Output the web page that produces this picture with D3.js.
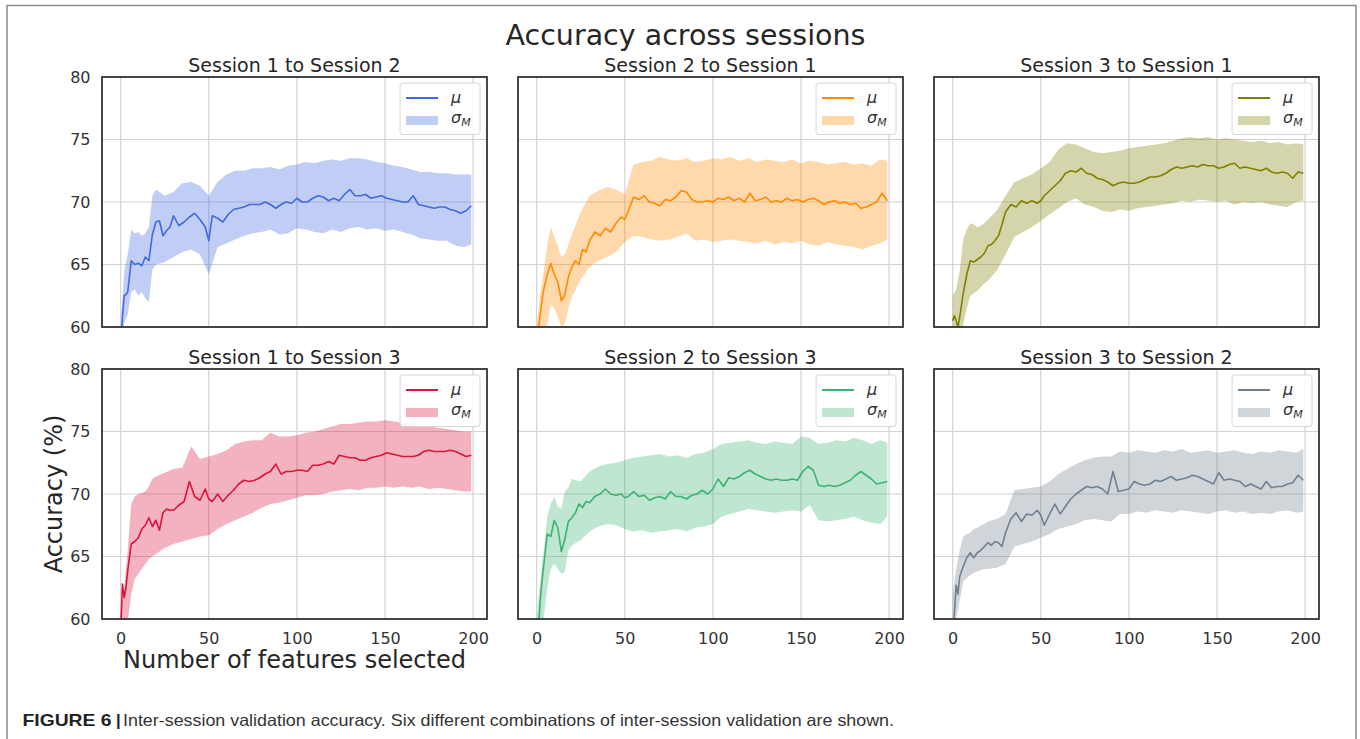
<!DOCTYPE html>
<html>
<head>
<meta charset="utf-8">
<script src="https://cdn.jsdelivr.net/npm/d3@7"></script>
<style>
  html, body { margin: 0; padding: 0; background: #fff; }
  svg text { font-family: "DejaVu Sans", sans-serif; }
  svg text.caption { font-family: "Liberation Sans", Arial, sans-serif; }
</style>
</head>
<body>
<div id="chart"></div>
<script>
const meanX = [0, 1, 2, 3, 4, 6, 8, 10, 12, 14, 16, 18, 20, 22, 24, 26, 28, 30,
  33, 36, 39, 42, 45, 48, 50, 52, 55, 58, 61, 64, 67, 70, 73, 76, 79, 82, 85, 88,
  91, 94, 97, 100, 103, 106, 109, 112, 115, 118, 121, 124, 127, 130, 133, 136,
  139, 142, 145, 148, 151, 154, 157, 160, 163, 166, 169, 172, 175, 178, 181,
  184, 187, 190, 193, 196, 199];

const bandX = [0, 2, 4, 6, 8, 10, 12, 14, 16, 18, 20, 25, 30, 35, 40, 45, 50, 55,
  60, 65, 70, 75, 80, 85, 90, 95, 100, 105, 110, 115, 120, 125, 130, 135, 140,
  145, 150, 155, 160, 165, 170, 175, 180, 185, 190, 195, 199];

const titles = ["Session 1 to Session 2", "Session 2 to Session 1", "Session 3 to Session 1",
  "Session 1 to Session 3", "Session 2 to Session 3", "Session 3 to Session 2"];
const colors = ["#4169e1", "#ff8c00", "#808000", "#dc143c", "#3cb371", "#708090"];

const xTicks = [0, 50, 100, 150, 200];
const yTicks = [60, 65, 70, 75, 80];

// Session 1 -> Session 2
const mean12 = [58.0, 60.8, 62.5, 62.6, 62.8, 65.3, 65.0, 65.1, 64.9, 65.6,
  65.3, 67.4, 68.4, 68.5, 67.3, 67.7, 68.0, 68.9, 68.1, 68.4,
  68.8, 69.1, 68.6, 68.0, 66.9, 68.9, 68.7, 68.4, 69.0, 69.4,
  69.5, 69.6, 69.8, 69.8, 69.8, 70.0, 69.8, 69.5, 69.8, 70.0,
  69.9, 70.3, 70.0, 70.0, 70.3, 70.5, 70.4, 70.1, 70.3, 70.1,
  70.6, 71.0, 70.5, 70.5, 70.6, 70.3, 70.4, 70.5, 70.3, 70.2,
  70.1, 70.0, 70.0, 70.5, 69.8, 69.7, 69.6, 69.5, 69.6, 69.6,
  69.4, 69.3, 69.1, 69.3, 69.7];
const lower12 = [57.5, 60.3, 61.0, 62.8, 63.0, 62.5, 62.8, 62.3, 62.0, 64.6, 65.0,
  65.2, 65.6, 66.0, 66.2, 65.8, 64.2, 66.4, 66.7, 67.0, 67.3,
  67.5, 67.6, 67.8, 67.4, 67.5, 67.9, 67.8, 67.6, 67.5, 67.8,
  67.6, 67.9, 68.0, 67.8, 67.9, 67.7, 67.8, 67.6, 67.4, 67.1,
  67.0, 66.9, 66.9, 66.5, 66.4, 66.6];
const upper12 = [60.0, 64.5, 65.8, 67.8, 67.5, 67.6, 67.3, 67.5, 68.0, 70.5, 71.0,
  70.5, 70.8, 71.5, 71.6, 71.3, 70.5, 71.6, 72.2, 72.5, 72.5,
  72.7, 72.7, 72.8, 72.6, 72.9, 73.0, 73.2, 73.1, 73.3, 73.4,
  73.3, 73.5, 73.5, 73.4, 73.2, 73.1, 72.9, 72.8, 72.6, 72.4,
  72.4, 72.3, 72.3, 72.2, 72.2, 72.2];

// Session 2 -> Session 1
const mean21 = [58.5, 59.8, 61.0, 62.2, 63.0, 64.2, 65.1, 64.2, 63.6, 62.1,
  62.6, 64.0, 64.8, 65.3, 65.0, 66.2, 66.0, 66.9, 67.6, 67.3,
  67.9, 67.6, 68.3, 68.8, 68.6, 69.3, 70.4, 70.2, 70.5, 70.0,
  69.9, 69.7, 70.2, 70.1, 70.4, 70.9, 70.8, 70.2, 70.0, 70.0,
  70.1, 70.0, 70.3, 70.2, 70.4, 70.1, 70.3, 70.0, 70.7, 70.1,
  70.2, 70.4, 70.0, 70.1, 70.0, 70.3, 70.1, 70.2, 70.0, 70.2,
  70.3, 70.1, 69.8, 70.0, 70.1, 69.9, 70.0, 69.8, 69.9, 69.5,
  69.6, 69.8, 70.0, 70.7, 70.1];
const lower21 = [57.0, 58.0, 59.0, 60.2, 61.8, 61.5, 60.8, 60.0, 60.3, 61.5, 62.4,
  63.8, 64.8, 65.3, 65.6, 66.0, 66.8, 67.3, 67.2, 67.0, 66.9,
  67.0, 67.2, 67.5, 66.9, 67.0, 66.8, 66.9, 67.0, 66.9, 66.8,
  66.7, 66.9, 66.6, 66.8, 66.7, 66.9, 66.6, 66.5, 66.8, 66.6,
  66.5, 66.4, 66.2, 66.5, 66.7, 67.0];
const upper21 = [60.0, 62.5, 64.5, 66.5, 68.0, 67.2, 66.5, 65.6, 65.8, 66.6, 67.4,
  69.2, 70.5, 70.9, 71.2, 71.0, 70.6, 73.0, 73.2, 73.3, 73.6,
  73.4, 73.3, 73.5, 73.2, 73.3, 73.5, 73.4, 73.6, 73.3, 73.5,
  73.2, 73.4, 73.3, 73.2, 73.4, 73.1, 73.3, 73.2, 73.0, 73.1,
  73.2, 73.0, 73.1, 72.9, 73.4, 73.3];

// Session 3 -> Session 1
const mean31 = [60.5, 60.9, 60.5, 60.0, 60.8, 62.7, 64.2, 65.3, 65.2, 65.4,
  65.6, 65.9, 66.5, 66.6, 66.9, 67.3, 68.2, 69.2, 69.8, 69.6,
  70.1, 69.9, 70.1, 69.9, 70.1, 70.5, 70.9, 71.3, 71.7, 72.3,
  72.5, 72.4, 72.7, 72.3, 72.2, 71.9, 71.8, 71.6, 71.3, 71.5,
  71.6, 71.5, 71.5, 71.6, 71.8, 72.0, 72.0, 72.1, 72.3, 72.6,
  72.8, 72.7, 72.8, 72.9, 72.8, 73.0, 72.9, 72.9, 72.7, 72.8,
  73.0, 73.1, 72.7, 72.8, 72.7, 72.6, 72.5, 72.7, 72.4, 72.3,
  72.4, 72.3, 71.9, 72.4, 72.3];
const lower31 = [58.5, 59.0, 59.2, 60.2, 61.5, 62.5, 62.7, 62.9, 63.2, 63.5, 63.7,
  64.5, 65.8, 67.2, 67.6, 68.0, 68.5, 69.0, 69.5, 70.0, 70.3,
  69.8, 69.6, 69.3, 69.2, 69.4, 69.3, 69.5, 69.6, 69.7, 69.8,
  69.9, 70.1, 70.0, 70.2, 70.1, 70.0, 70.1, 69.8, 70.0, 69.9,
  70.0, 69.8, 69.7, 69.6, 70.0, 70.1];
const upper31 = [62.5, 63.0, 64.5, 67.0, 67.8, 68.3, 68.2, 68.0, 68.1, 68.3, 68.6,
  69.3, 70.5, 71.6, 71.9, 72.2, 72.7, 73.2, 74.2, 74.7, 74.6,
  74.3, 74.0, 73.9, 74.0, 74.1, 74.3, 74.4, 74.5, 74.6, 74.7,
  74.9, 75.1, 75.2, 75.1, 75.2, 75.0, 75.1, 75.0, 74.9, 74.8,
  74.9, 74.7, 74.8, 74.6, 74.7, 74.6];

// Session 1 -> Session 3
const mean13 = [59.0, 62.8, 61.7, 62.5, 63.9, 66.0, 66.2, 66.5, 67.2, 67.5,
  68.1, 67.4, 67.9, 67.1, 68.5, 68.8, 68.7, 68.7, 69.1, 69.4,
  71.0, 69.8, 69.5, 70.4, 69.6, 69.4, 70.0, 69.4, 69.9, 70.3,
  70.8, 71.1, 71.0, 71.1, 71.3, 71.6, 71.8, 72.4, 71.6, 71.8,
  71.8, 71.9, 71.9, 71.8, 72.3, 72.3, 72.4, 72.6, 72.4, 73.1,
  73.0, 72.9, 72.9, 72.7, 72.7, 72.9, 73.0, 73.1, 73.3, 73.2,
  73.1, 73.0, 73.0, 73.0, 73.1, 73.4, 73.5, 73.4, 73.4, 73.4,
  73.5, 73.4, 73.2, 73.0, 73.1];
const lower13 = [59.0, 59.5, 59.8, 62.0, 63.2, 63.6, 64.0, 64.4, 64.8, 65.0, 65.2,
  65.7, 66.0, 66.2, 66.4, 66.6, 66.7, 67.2, 67.6, 67.9, 68.2,
  68.5, 68.9, 69.2, 69.3, 69.5, 69.7, 69.9, 69.9, 70.0, 70.2,
  70.3, 70.4, 70.3, 70.5, 70.5, 70.6, 70.5, 70.6, 70.5, 70.6,
  70.4, 70.5, 70.4, 70.3, 70.2, 70.2];
const upper13 = [60.5, 62.5, 65.5, 69.2, 69.8, 70.0, 70.1, 70.2, 70.6, 71.2, 71.4,
  71.7, 72.0, 72.1, 73.8, 72.8, 73.0, 73.2, 73.5, 74.0, 74.2,
  74.3, 74.3, 74.9, 74.6, 74.6, 74.7, 74.9, 75.0, 75.2, 75.4,
  75.6, 75.6, 75.7, 75.8, 75.8, 75.9, 75.8, 75.7, 75.6, 75.5,
  75.4, 75.3, 75.2, 75.1, 75.0, 75.0];

// Session 2 -> Session 3
const mean23 = [57.5, 59.0, 61.5, 63.0, 64.3, 66.8, 66.6, 67.9, 67.3, 65.4,
  66.4, 67.8, 68.1, 68.5, 69.2, 68.9, 69.4, 69.3, 69.8, 70.0,
  70.4, 70.0, 69.9, 70.0, 69.7, 69.8, 70.2, 69.8, 69.9, 69.5,
  69.7, 69.8, 69.6, 70.2, 69.8, 69.8, 69.6, 69.9, 70.0, 70.3,
  70.0, 70.4, 71.2, 70.6, 71.3, 71.2, 71.4, 71.7, 71.9, 71.6,
  71.4, 71.2, 71.1, 71.2, 71.1, 71.1, 71.2, 71.1, 71.8, 72.2,
  71.9, 70.7, 70.6, 70.7, 70.6, 70.7, 70.9, 71.1, 71.5, 71.8,
  71.5, 71.2, 70.8, 70.9, 71.0];
const lower23 = [57.0, 58.5, 60.0, 62.5, 64.0, 64.4, 64.0, 63.6, 63.8, 65.5, 65.9,
  66.3, 67.0, 67.4, 67.6, 67.5, 67.2, 67.0, 67.1, 66.9, 67.0,
  67.1, 67.2, 67.0, 67.3, 67.4, 67.6, 68.2, 68.4, 68.6, 68.8,
  68.7, 68.6, 68.5, 68.6, 68.7, 68.6, 69.1, 67.9, 67.8, 67.9,
  68.0, 68.2, 67.9, 67.7, 67.6, 68.2];
const upper23 = [60.0, 63.0, 65.5, 68.2, 69.2, 69.8, 69.0, 68.8, 70.2, 70.5, 71.2,
  71.0, 71.8, 72.2, 72.4, 72.5, 72.7, 72.9, 73.0, 73.1, 73.2,
  73.0, 73.1, 72.9, 73.2, 73.3, 73.6, 74.0, 74.1, 74.2, 74.3,
  74.1, 74.0, 74.2, 74.1, 74.0, 74.6, 74.5, 74.0, 74.1, 74.3,
  74.2, 74.5, 74.3, 74.0, 74.3, 74.1];

// Session 3 -> Session 2
const mean32 = [59.0, 60.5, 62.7, 62.0, 63.4, 64.2, 64.9, 65.3, 64.9, 65.3,
  65.5, 65.8, 66.1, 65.9, 66.2, 66.1, 65.8, 66.9, 68.0, 68.5,
  67.8, 68.4, 68.3, 68.7, 68.3, 67.5, 68.4, 69.2, 68.4, 69.0,
  69.6, 70.0, 70.3, 70.6, 70.5, 70.6, 70.4, 70.0, 71.8, 70.2,
  70.3, 70.4, 71.0, 70.8, 70.7, 70.8, 71.1, 71.0, 71.2, 71.4,
  71.1, 71.2, 71.3, 71.5, 71.4, 71.2, 71.0, 70.8, 71.7, 71.1,
  71.2, 71.1, 71.0, 70.6, 70.8, 70.6, 70.4, 71.0, 70.5, 70.6,
  70.6, 70.8, 70.9, 71.5, 71.1];
const lower32 = [58.5, 60.0, 61.5, 63.0, 63.3, 63.5, 63.7, 63.8, 63.9, 64.0, 64.0,
  64.1, 64.4, 65.8, 66.0, 66.2, 66.5, 66.8, 67.2, 67.4, 67.6,
  67.9, 68.0, 67.9, 67.8, 68.4, 68.4, 68.6, 68.5, 68.7, 68.6,
  68.5, 68.7, 68.6, 68.5, 68.4, 68.6, 68.7, 68.5, 68.6, 68.4,
  68.5, 68.4, 68.6, 68.7, 68.5, 68.6];
const upper32 = [62.0, 64.0, 65.5, 66.6, 66.8, 66.9, 67.2, 67.3, 67.5, 67.6, 67.8,
  68.0, 68.4, 70.3, 70.4, 70.5, 70.6, 71.0, 71.6, 72.0, 72.4,
  72.7, 72.9, 73.0, 73.0, 73.4, 73.3, 73.5, 73.4, 73.3, 73.5,
  73.4, 73.6, 73.3, 73.4, 73.5, 73.3, 73.4, 73.5, 73.3, 73.2,
  73.4, 73.3, 73.5, 73.4, 73.3, 73.6];

const means = [mean12, mean21, mean31, mean13, mean23, mean32];
const lowers = [lower12, lower21, lower31, lower13, lower23, lower32];
const uppers = [upper12, upper21, upper31, upper13, upper23, upper32];

// Layout
const width = 1360, height = 739;
const colX = [102, 518, 934];
const rowY = [77, 369];
const pw = 385, ph = 250;

const svg = d3.select("#chart").append("svg")
    .attr("width", width)
    .attr("height", height);

svg.append("rect")
    .attr("width", width).attr("height", height)
    .attr("fill", "#fff");

// outer frame of the figure
svg.append("rect")
    .attr("x", 7).attr("y", 5.5)
    .attr("width", 1349).attr("height", 800)
    .attr("fill", "none")
    .attr("stroke", "#8c8c8c")
    .attr("stroke-width", 1.5);

svg.append("text")
    .attr("x", 685.5).attr("y", 45)
    .attr("text-anchor", "middle")
    .attr("font-size", "28.5px")
    .attr("fill", "#262626")
    .text("Accuracy across sessions");

const x = d3.scaleLinear().domain([-10.6, 207.9]).range([0, pw]);
const y = d3.scaleLinear().domain([60, 80]).range([ph, 0]);

titles.forEach((title, i) => {
    const col = i % 3, row = Math.floor(i / 3);
    const color = colors[i];
    const g = svg.append("g")
        .attr("transform", `translate(${colX[col]},${rowY[row]})`);

    g.append("defs").append("clipPath")
        .attr("id", "clip" + i)
      .append("rect")
        .attr("width", pw).attr("height", ph);

    // grid
    g.append("g").selectAll("line.vx")
        .data(xTicks).enter().append("line")
        .attr("x1", d => x(d)).attr("x2", d => x(d))
        .attr("y1", 0).attr("y2", ph)
        .attr("stroke", "#d3d3d3").attr("stroke-width", 1.2);
    g.append("g").selectAll("line.hy")
        .data(yTicks).enter().append("line")
        .attr("x1", 0).attr("x2", pw)
        .attr("y1", d => y(d)).attr("y2", d => y(d))
        .attr("stroke", "#d3d3d3").attr("stroke-width", 1.2);

    const plot = g.append("g").attr("clip-path", `url(#clip${i})`);

    // sigma band
    const band = bandX.map((f, k) => ({ f: f, lo: lowers[i][k], hi: uppers[i][k] }));
    plot.append("path")
        .datum(band)
        .attr("fill", color)
        .attr("fill-opacity", 0.33)
        .attr("d", d3.area()
            .x(d => x(d.f))
            .y0(d => y(d.lo))
            .y1(d => y(d.hi)));

    // mean line
    const pts = meanX.map((f, k) => ({ f: f, v: means[i][k] }));
    plot.append("path")
        .datum(pts)
        .attr("fill", "none")
        .attr("stroke", color)
        .attr("stroke-width", 1.6)
        .attr("stroke-linejoin", "round")
        .attr("d", d3.line().x(d => x(d.f)).y(d => y(d.v)));

    // frame
    g.append("rect")
        .attr("width", pw).attr("height", ph)
        .attr("fill", "none")
        .attr("stroke", "#333")
        .attr("stroke-width", 1.8);

    // subplot title
    g.append("text")
        .attr("x", pw / 2).attr("y", -5.5)
        .attr("text-anchor", "middle")
        .attr("font-size", "19px")
        .attr("fill", "#262626")
        .text(title);

    // axes
    if (col === 0) {
        const ya = g.append("g").call(d3.axisLeft(y).tickValues(yTicks).tickSize(0).tickPadding(11.5));
        ya.select(".domain").remove();
        ya.selectAll("text").attr("font-size", "16px").attr("fill", "#333");
    }
    if (row === 1) {
        const xa = g.append("g").attr("transform", `translate(0,${ph})`)
            .call(d3.axisBottom(x).tickValues(xTicks).tickSize(0).tickPadding(13.5));
        xa.select(".domain").remove();
        xa.selectAll("text").attr("font-size", "16px").attr("fill", "#333");
    }

    // legend
    const lg = g.append("g").attr("transform", `translate(${pw - 87},6)`);
    lg.append("rect")
        .attr("width", 80).attr("height", 51.5)
        .attr("rx", 3).attr("ry", 3)
        .attr("fill", "#fff").attr("fill-opacity", 0.85)
        .attr("stroke", "#d6d6d6").attr("stroke-width", 1);
    lg.append("line")
        .attr("x1", 6).attr("x2", 38)
        .attr("y1", 15).attr("y2", 15)
        .attr("stroke", color).attr("stroke-width", 2);
    lg.append("rect")
        .attr("x", 6).attr("y", 33)
        .attr("width", 32).attr("height", 9)
        .attr("fill", color).attr("fill-opacity", 0.33);
    lg.append("text")
        .attr("x", 51).attr("y", 20)
        .attr("font-size", "16px")
        .attr("font-style", "italic")
        .attr("fill", "#333")
        .text("μ");
    const sig = lg.append("text")
        .attr("x", 51).attr("y", 40)
        .attr("font-size", "16px")
        .attr("font-style", "italic")
        .attr("fill", "#333");
    sig.append("tspan").text("σ");
    sig.append("tspan")
        .attr("font-size", "11px")
        .attr("dy", 3)
        .text("M");
});

// axis labels
svg.append("text")
    .attr("x", colX[0] + pw / 2).attr("y", 668)
    .attr("text-anchor", "middle")
    .attr("font-size", "24px")
    .attr("fill", "#262626")
    .text("Number of features selected");

svg.append("text")
    .attr("transform", `translate(62,${rowY[1] + ph / 2}) rotate(-90)`)
    .attr("text-anchor", "middle")
    .attr("font-size", "24px")
    .attr("fill", "#262626")
    .text("Accuracy (%)");

// caption
svg.append("text")
    .attr("class", "caption")
    .attr("x", 22.5).attr("y", 726)
    .attr("font-size", "16.5px")
    .attr("font-weight", "bold")
    .attr("fill", "#222")
    .attr("textLength", 89)
    .attr("lengthAdjust", "spacingAndGlyphs")
    .text("FIGURE 6");
svg.append("text")
    .attr("class", "caption")
    .attr("x", 116).attr("y", 726)
    .attr("font-size", "16.5px")
    .attr("font-weight", "bold")
    .attr("fill", "#222")
    .text("|");
svg.append("text")
    .attr("class", "caption")
    .attr("x", 123).attr("y", 726)
    .attr("font-size", "16.5px")
    .attr("fill", "#333")
    .attr("textLength", 771)
    .attr("lengthAdjust", "spacingAndGlyphs")
    .text("Inter-session validation accuracy. Six different combinations of inter-session validation are shown.");
</script>
</body>
</html>
